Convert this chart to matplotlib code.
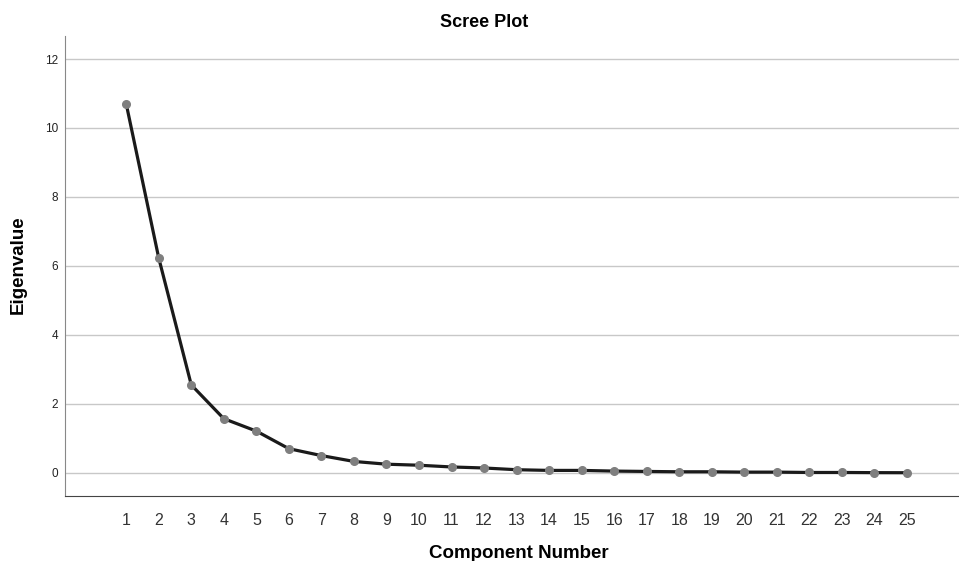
import numpy as np
import matplotlib.pyplot as plt

plt.rcParams['font.family'] = ['Liberation Sans', 'DejaVu Sans']

components = list(range(1, 26))
eigenvalues = [10.70, 6.23, 2.55, 1.57, 1.21, 0.70, 0.50, 0.33, 0.25, 0.22,
               0.17, 0.14, 0.09, 0.07, 0.07, 0.05, 0.04, 0.03, 0.03, 0.02,
               0.02, 0.01, 0.01, 0.005, 0.003]
yticks = [0, 2, 4, 6, 8, 10, 12]

fig = plt.figure(figsize=(9.59, 5.61), dpi=100)
ax = fig.add_axes([0.068, 0.116, 0.932, 0.82])

ax.plot(components, eigenvalues, color='#1a1a1a', lw=2.3, zorder=3)
ax.plot(components, eigenvalues, 'o', color='#7f7f7f', ms=5.5, zorder=4)

ax.set_xlim(-0.875, 26.6)
ax.set_ylim(-0.67, 12.67)
ax.set_xticks(components)
ax.set_yticks(yticks)
ax.tick_params(axis='x', length=0, labelsize=11.5, labelcolor='#333333', pad=12)
ax.tick_params(axis='y', length=0, labelsize=8.5, labelcolor='#222222', pad=5)
ax.grid(axis='y', color='#c8c8c8', lw=1)
ax.set_axisbelow(True)

for s in ['top', 'right']:
    ax.spines[s].set_visible(False)
ax.spines['left'].set_color('#888888')
ax.spines['bottom'].set_color('#444444')

# titles placed in figure pixels to match the reference
W, H = 959, 561
fig.text(484 / W, 1 - 27 / H, 'Scree Plot', fontsize=13, fontweight='bold',
         ha='center', va='baseline')
fig.text(519 / W, 1 - 558 / H, 'Component Number', fontsize=13.5,
         fontweight='bold', ha='center', va='baseline')
fig.text(18 / W, 1 - 265 / H, 'Eigenvalue', fontsize=13.5, fontweight='bold',
         ha='center', va='center', rotation=90)

fig.savefig('out.png', dpi=100)
